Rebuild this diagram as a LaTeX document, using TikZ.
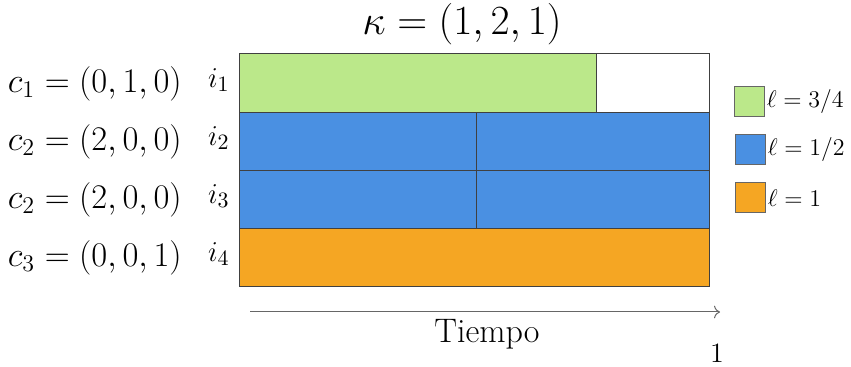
\documentclass[tikz,border=0pt]{standalone}
\usepackage{amsmath}
\usetikzlibrary{arrows.meta, positioning}
\definecolor{slotgreen}{RGB}{187,232,138}
\definecolor{slotblue}{RGB}{74,144,226}
\definecolor{slotorange}{RGB}{245,166,35}

\begin{document}
\begin{tikzpicture}[
  x=0.5pt, y=-0.5pt,
  bar/.style={draw=black!75, line width=0.5pt},
  cfg/.style={anchor=east, inner sep=0pt, font=\fontsize{16.5}{20}\selectfont},
  item/.style={anchor=east, inner sep=0pt, font=\fontsize{15}{18}\selectfont},
  key/.style={draw=black!60, line width=0.5pt, minimum size=15pt, inner sep=0pt},
  keytext/.style={right=1pt of #1, inner sep=0pt, font=\fontsize{11.5}{14}\selectfont},
  arrow/.style={-{To[length=3pt]}, draw=black!60, line width=0.5pt}
]
\useasboundingbox (0,0) rectangle (851,367);

% Bars
\filldraw[bar, fill=slotgreen] (239,54) rectangle (596,113);
\filldraw[bar, fill=white] (596,54) rectangle (709,113);
\foreach \y in {113,171} {
  \filldraw[bar, fill=slotblue] (239,\y) rectangle (476,\y+58);
  \filldraw[bar, fill=slotblue] (476,\y) rectangle (709,\y+58);
}
\filldraw[bar, fill=slotorange] (239,229) rectangle (709,287);

% Nodes
\node[font=\fontsize{20}{24}\selectfont] (kappa) at (462,24) {$\kappa = (1,2,1)$};
\node[cfg] (c1) at (182,84) {$c_1 = (0,1,0)$};
\node[cfg] (c2) at (182,142) {$c_2 = (2,0,0)$};
\node[cfg] (c2b) at (182,200) {$c_2 = (2,0,0)$};
\node[cfg] (c3) at (182,258) {$c_3 = (0,0,1)$};
\node[item] (i1) at (230,80) {$i_1$};
\node[item] (i2) at (230,138) {$i_2$};
\node[item] (i3) at (230,196) {$i_3$};
\node[item] (i4) at (230,254) {$i_4$};

\node[key, fill=slotgreen] (kgreen) at (749,102) {};
\node[key, fill=slotblue] (kblue) at (750,150) {};
\node[key, fill=slotorange] (korange) at (750,198) {};
\node[keytext=kgreen] (lgreen) {$\ell = 3/4$};
\node[keytext=kblue] (lblue) {$\ell = 1/2$};
\node[keytext=korange] (lorange) {$\ell = 1$};

\coordinate (t0) at (250,312);
\coordinate (t1) at (720,312);
\node[font=\fontsize{17}{20}\selectfont] (time) at (487,334) {Tiempo};
\node[font=\fontsize{14}{17}\selectfont] (one) at (717,353) {1};

% Arrows
\draw[arrow] (t0) -- (t1);

\end{tikzpicture}
\end{document}
